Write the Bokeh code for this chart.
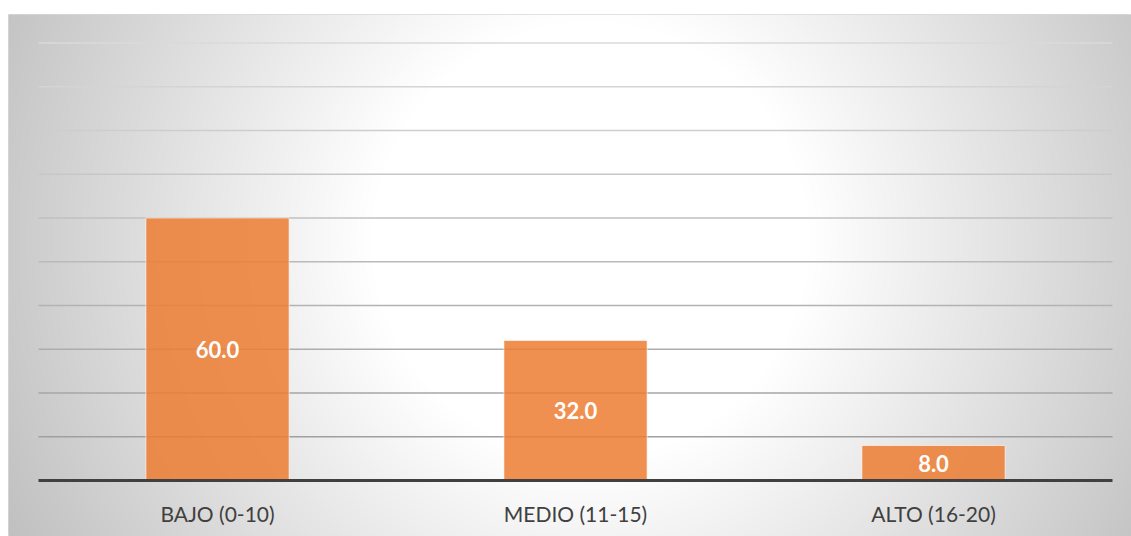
import numpy as np
from bokeh.plotting import figure
from bokeh.models import Range1d, ColumnDataSource
from bokeh.core.properties import value
from bokeh.embed import file_html
from bokeh.resources import INLINE

# ---- data ----
categories = ["BAJO (0-10)", "MEDIO (11-15)", "ALTO (16-20)"]
values = [60.0, 32.0, 8.0]
grid_ticks = [10, 20, 30, 40, 50, 60, 70, 80, 90, 100]

# ---- layout ----
W, H = 1131, 536
LEFT, TOP = 8, 14
FW = W - LEFT
FH = H - TOP
PX_PER_CAT = 358.0
x_start = -0.5 - 30 / PX_PER_CAT
x_end = x_start + FW / PX_PER_CAT
PX_PER_UNIT = 4.375
y_end = 100 + 28.5 / PX_PER_UNIT
y_start = -(FH - 466) / PX_PER_UNIT

p = figure(width=W, height=H,
           x_range=Range1d(x_start, x_end), y_range=Range1d(y_start, y_end),
           output_backend="svg", toolbar_location=None,
           x_axis_location=None, y_axis_location=None,
           min_border_left=LEFT, min_border_right=0, min_border_bottom=0,
           min_border_top=TOP, border_fill_color="white",
           background_fill_color="white",
           outline_line_color="#d9d9d9", outline_line_width=1)
p.grid.visible = False

# ---- radial gradient background (style only) ----
xs_pix = LEFT + np.arange(FW) + 0.5
ys_pix = TOP + np.arange(FH) + 0.5
X, Y = np.meshgrid(xs_pix, ys_pix)
d = np.hypot(X - 590, Y - 240)
b = np.clip(255 - np.maximum(0, d - 220) * 0.145, 190, 255).astype(np.uint8)
img = np.zeros((FH, FW), dtype=np.uint32)
view = img.view(np.uint8).reshape(FH, FW, 4)
view[..., 0] = b
view[..., 1] = b
view[..., 2] = b
view[..., 3] = 255
img = np.ascontiguousarray(np.flipud(img))
p.image_rgba(image=[img], x=x_start, y=y_start, dw=x_end - x_start, dh=y_end - y_start)

# ---- gridlines ----
n = len(categories)
grid_colors = []
for t in grid_ticks:
    c = int(round(160 + (t - 10) / 90.0 * 58))
    grid_colors.append("#%02x%02x%02x" % (c, c, c))
p.segment(x0=-0.5, x1=n - 0.5, y0=grid_ticks, y1=grid_ticks,
          line_color=grid_colors, line_width=1.3)

# ---- bars ----
xpos = list(range(n))
src = ColumnDataSource(dict(x=xpos, top=values,
                            mid=[v / 2 for v in values],
                            lab=[f"{v:.1f}" for v in values],
                            cat=categories,
                            cy=[-7.6] * n))
p.vbar(x="x", top="top", width=0.4, source=src,
       fill_color="#ED7D31", fill_alpha=0.85,
       line_color="white", line_alpha=0.6, line_width=1)

# ---- baseline ----
p.segment(x0=-0.5, x1=n - 0.5, y0=0, y1=0, line_color="#404040", line_width=3)

# ---- value labels ----
p.text(x="x", y="mid", text="lab", source=src, text_color="white",
       text_font=value("Lato"), text_font_style="bold", text_font_size="22px",
       text_align="center", text_baseline="middle")

# ---- category labels ----
p.text(x="x", y="cy", text="cat", source=src, text_color="#404040",
       text_font=value("Lato"), text_font_size="21px",
       text_align="center", text_baseline="middle")

open("out.html", "w").write(file_html(p, INLINE))
